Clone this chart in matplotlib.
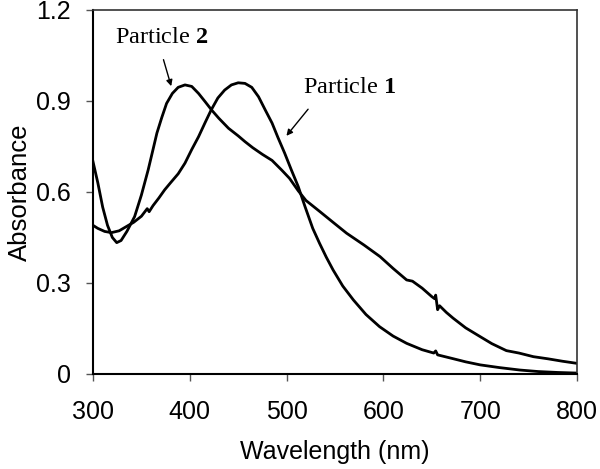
import matplotlib
matplotlib.use('Agg')
import matplotlib.pyplot as plt

# Particle 1 spectrum (wavelength in nm, absorbance)
wl_p1 = [300, 305, 312, 319, 327, 335, 342, 350, 356, 358, 362, 368, 374, 380, 388,
         395, 402, 409, 416, 422, 429, 436, 443, 450, 457, 464, 471, 478, 485, 491,
         498, 505, 512, 519, 527, 534, 541, 548, 558, 569, 582, 596, 610, 624, 640,
         652, 654, 656, 670, 685, 700, 720, 741, 760, 780, 800]
abs_p1 = [0.49, 0.48, 0.47, 0.466, 0.472, 0.487, 0.50, 0.52, 0.545, 0.535, 0.555, 0.58,
          0.607, 0.63, 0.66, 0.695, 0.74, 0.782, 0.83, 0.87, 0.91, 0.936, 0.953, 0.96,
          0.958, 0.945, 0.914, 0.87, 0.827, 0.78, 0.728, 0.672, 0.618, 0.552, 0.48,
          0.431, 0.385, 0.343, 0.29, 0.244, 0.196, 0.156, 0.125, 0.101, 0.08, 0.069,
          0.076, 0.063, 0.052, 0.040, 0.030, 0.021, 0.013, 0.008, 0.005, 0.003]

# Particle 2 spectrum
wl_p2 = [300, 305, 310, 315, 320, 324.5, 329, 335, 343, 350, 357, 362, 366, 371, 376,
         382, 388, 395, 402, 409, 416, 422.6, 430, 440, 450, 457, 465, 475, 485, 495,
         503, 512, 520, 534.5, 548, 562, 580, 596.5, 610, 624, 630, 640, 650, 653, 654,
         656, 658, 665, 672, 685, 700, 712, 727, 740, 755, 770, 785, 800]
abs_p2 = [0.70, 0.63, 0.55, 0.49, 0.45, 0.433, 0.44, 0.47, 0.519, 0.59, 0.673, 0.74,
          0.794, 0.845, 0.892, 0.925, 0.945, 0.953, 0.948, 0.925, 0.897, 0.870, 0.843,
          0.81, 0.785, 0.766, 0.746, 0.724, 0.704, 0.672, 0.645, 0.604, 0.572, 0.535,
          0.50, 0.464, 0.425, 0.387, 0.348, 0.31, 0.306, 0.283, 0.255, 0.248, 0.26,
          0.212, 0.225, 0.203, 0.184, 0.152, 0.123, 0.100, 0.077, 0.069, 0.057, 0.050,
          0.042, 0.035]

x_ticks = [300, 400, 500, 600, 700, 800]
y_ticks = [0, 0.3, 0.6, 0.9, 1.2]
y_tick_labels = ['0', '0.3', '0.6', '0.9', '1.2']

plt.rcParams['font.family'] = 'Liberation Sans'
plt.rcParams['mathtext.fontset'] = 'custom'
plt.rcParams['mathtext.rm'] = 'Liberation Serif'
plt.rcParams['mathtext.bf'] = 'Liberation Serif:bold'

fig = plt.figure(figsize=(6, 4.69), dpi=100)
ax = fig.add_axes([0.155, 0.2026, 0.8067, 0.7761])

ax.plot(wl_p1, abs_p1, color='black', lw=2)
ax.plot(wl_p2, abs_p2, color='black', lw=2)

ax.set_xlim(300, 800)
ax.set_ylim(0, 1.2)
ax.set_xticks(x_ticks)
ax.set_yticks(y_ticks)
ax.set_yticklabels(y_tick_labels)
ax.tick_params(direction='out', length=5, width=1, color='#555555', labelsize=18)
ax.tick_params(axis='x', pad=14)
ax.tick_params(axis='y', pad=11)

for side in ['left', 'bottom']:
    ax.spines[side].set_linewidth(1.5)
for side in ['top', 'right']:
    ax.spines[side].set_linewidth(1.2)
    ax.spines[side].set_color('#333333')

ax.set_xlabel('Wavelength (nm)', fontsize=18, labelpad=11)
ax.set_ylabel('Absorbance', fontsize=18.5, labelpad=3)

# Etiquetas de las particulas
ax.text(371, 1.108, r'Particle $\mathbf{2}$', family='Liberation Serif', fontsize=17.5,
        ha='center', va='center')
ax.annotate('', xy=(381.6, 0.94), xytext=(372, 1.045),
            arrowprops=dict(arrowstyle='-|>', color='black', lw=1, mutation_scale=9))

ax.text(564.5, 0.946, r'Particle $\mathbf{1}$', family='Liberation Serif', fontsize=17.5,
        ha='center', va='center')
ax.annotate('', xy=(498, 0.778), xytext=(524, 0.88),
            arrowprops=dict(arrowstyle='-|>', color='black', lw=1, mutation_scale=9))

plt.savefig('out.png', dpi=100)
